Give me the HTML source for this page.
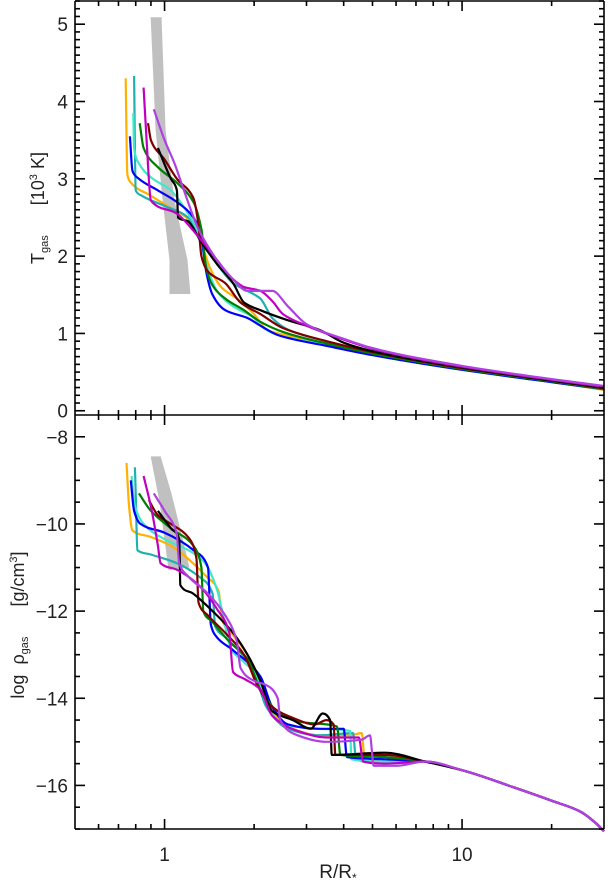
<!DOCTYPE html>
<html><head><meta charset="utf-8"><style>
html,body{margin:0;padding:0;background:#fff;}
svg{display:block;font-family:"Liberation Sans","DejaVu Sans",sans-serif;}
</style></head><body>
<svg id="chart" width="608" height="882" viewBox="0 0 608 882" xmlns="http://www.w3.org/2000/svg">
<g id="top"></g>
<g id="bot"></g>
<g id="axes"></g>
</svg>
<script>
// ---- data ----
const seriesNames = ["orange","teal","turquoise","blue","green","darkred","black","magenta","purple"];
const seriesColors = ["#ffb000","#20b0b0","#40e8c8","#0000ff","#008000","#800000","#000000","#c000c0","#b040e0"];

const tempOrange = [[0.74,4.3],[0.75,3.05],[0.77,2.95],[0.9,2.78],[1.05,2.62],[1.2,2.48],[1.32,2.2],[1.42,1.85],[1.55,1.6],[1.75,1.45],[2.0,1.25],[2.2,1.05],[2.6,0.97],[3.5,0.85],[5,0.72],[10,0.53],[20,0.37],[30,0.27]];
const tempTeal = [[0.79,4.33],[0.8,2.85],[0.84,2.78],[1.0,2.65],[1.2,2.5],[1.32,2.2],[1.5,1.9],[1.7,1.65],[1.9,1.55],[2.1,1.45],[2.3,1.2],[2.6,1.05],[3.5,0.9],[5,0.75],[10,0.55],[20,0.38],[30,0.29]];
const tempTurquoise = [[0.785,3.85],[0.79,3.4],[0.82,3.2],[0.9,3.02],[1.05,2.85],[1.2,2.55],[1.3,2.3],[1.38,1.9],[1.5,1.55],[1.7,1.35],[2.0,1.2],[2.1,1.1],[2.4,0.98],[3.5,0.85],[5,0.72],[10,0.53],[20,0.37],[30,0.28]];
const tempBlue = [[0.765,3.55],[0.78,3.1],[0.82,3.0],[0.95,2.85],[1.1,2.7],[1.25,2.5],[1.33,2.25],[1.38,1.8],[1.45,1.5],[1.6,1.3],[1.9,1.2],[2.1,1.1],[2.4,0.98],[3.5,0.84],[5,0.72],[10,0.53],[20,0.37],[30,0.28]];
const tempGreen = [[0.825,3.72],[0.85,3.4],[0.95,3.15],[1.1,2.95],[1.25,2.7],[1.33,2.35],[1.38,1.85],[1.45,1.62],[1.6,1.45],[1.85,1.3],[2.1,1.15],[2.5,1.02],[3.5,0.87],[5,0.74],[10,0.54],[20,0.38],[30,0.28]];
const tempDarkred = [[0.88,3.72],[0.9,3.5],[1.0,3.25],[1.1,3.0],[1.25,2.75],[1.3,2.4],[1.33,2.0],[1.4,1.8],[1.6,1.65],[1.8,1.4],[2.1,1.25],[2.5,1.07],[3.5,0.9],[5,0.76],[10,0.55],[20,0.39],[30,0.29]];
const tempBlack = [[0.95,3.4],[1.05,3.0],[1.1,2.85],[1.11,2.5],[1.2,2.45],[1.32,2.2],[1.5,1.9],[1.7,1.65],[1.85,1.4],[2.1,1.3],[2.6,1.17],[3.3,1.05],[4,0.88],[5,0.77],[10,0.56],[20,0.39],[30,0.3]];
const tempMagenta = [[0.85,4.18],[0.87,3.5],[0.9,2.72],[1.1,2.55],[1.3,2.25],[1.5,1.95],[1.7,1.7],[1.85,1.6],[2.1,1.55],[2.3,1.42],[2.5,1.25],[3,1.1],[4,0.92],[5,0.8],[10,0.57],[20,0.4],[30,0.31]];
const tempPurple = [[0.92,3.9],[1.0,3.5],[1.08,3.2],[1.15,2.9],[1.3,2.35],[1.5,1.95],[1.7,1.7],[1.9,1.55],[2.3,1.55],[2.6,1.35],[3,1.12],[4,0.93],[5,0.81],[10,0.58],[20,0.41],[30,0.32]];

const rhoTail = [[10,-15.65],[15,-16.05],[20,-16.35],[25,-16.6],[28,-16.85],[30,-17.05]];
const rhoOrange = [[0.745,-8.6],[0.76,-9.6],[0.78,-10.15],[0.9,-10.3],[1.05,-10.5],[1.2,-10.8],[1.38,-11.2],[1.52,-11.55],[1.56,-12.2],[1.7,-12.55],[1.9,-13.0],[2.1,-13.6],[2.3,-14.3],[2.7,-14.7],[3.3,-14.85],[4.2,-14.85],[4.6,-14.8],[4.7,-15.35],[5.5,-15.45],[7.5,-15.45]];
const rhoTeal = [[0.795,-8.7],[0.8,-9.3],[0.81,-10.6],[0.9,-10.7],[1.1,-10.9],[1.3,-11.2],[1.45,-11.6],[1.48,-12.35],[1.6,-12.6],[1.8,-12.95],[2.0,-13.4],[2.2,-14.2],[2.6,-14.7],[3.3,-14.85],[4.3,-14.8],[4.4,-15.4],[5.5,-15.5],[7.5,-15.45]];
const rhoTurquoise = [[0.775,-8.9],[0.79,-9.5],[0.85,-10.0],[1.0,-10.35],[1.2,-10.6],[1.35,-10.85],[1.5,-11.5],[1.55,-11.9],[1.68,-12.9],[1.8,-13.1],[2.05,-13.5],[2.2,-14.1],[2.5,-14.6],[3.3,-14.7],[4.2,-14.75],[4.25,-15.4],[5.5,-15.45],[7.5,-15.45]];
const rhoBlue = [[0.77,-9.0],[0.79,-9.7],[0.83,-10.0],[1.0,-10.2],[1.25,-10.6],[1.4,-11.0],[1.43,-12.3],[1.5,-12.6],[1.7,-12.9],[2.1,-13.5],[2.3,-14.2],[2.6,-14.6],[3.3,-14.7],[4.0,-14.7],[4.1,-15.35],[5.5,-15.4],[7.5,-15.45]];
const rhoGreen = [[0.82,-9.3],[0.9,-9.7],[1.05,-10.1],[1.25,-10.5],[1.33,-11.0],[1.35,-12.0],[1.45,-12.25],[1.65,-12.7],[1.9,-13.1],[2.1,-13.8],[2.4,-14.3],[2.9,-14.55],[3.5,-14.6],[3.8,-14.65],[3.9,-15.3],[5.5,-15.35],[7.5,-15.45]];
const rhoDarkred = [[0.885,-9.45],[0.95,-9.8],[1.05,-10.0],[1.2,-10.3],[1.28,-10.8],[1.3,-11.8],[1.4,-12.1],[1.6,-12.5],[1.85,-13.0],[2.05,-13.7],[2.3,-14.2],[2.7,-14.45],[3.2,-14.6],[3.5,-14.5],[3.7,-14.6],[3.75,-15.3],[5.5,-15.3],[7.5,-15.45]];
const rhoBlack = [[0.95,-9.7],[1.05,-10.1],[1.12,-10.35],[1.13,-11.4],[1.25,-11.6],[1.45,-12.0],[1.7,-12.5],[1.9,-13.0],[2.1,-13.6],[2.3,-14.3],[2.7,-14.5],[3.1,-14.7],[3.4,-14.35],[3.6,-14.5],[3.65,-15.3],[5.5,-15.25],[7.5,-15.45]];
const rhoMagenta = [[0.85,-8.9],[0.9,-9.6],[0.95,-10.5],[0.97,-10.9],[1.1,-11.05],[1.3,-11.4],[1.5,-11.95],[1.65,-12.5],[1.7,-13.4],[1.85,-13.55],[2.1,-13.8],[2.3,-14.4],[2.8,-14.75],[3.5,-14.9],[4.5,-14.9],[4.65,-15.45],[5.5,-15.5],[7.5,-15.45]];
const rhoPurple = [[0.92,-9.3],[1.0,-9.7],[1.1,-10.25],[1.12,-10.9],[1.2,-11.2],[1.4,-11.6],[1.6,-12.1],[1.75,-12.7],[1.8,-13.3],[2.0,-13.6],[2.2,-13.7],[2.4,-14.0],[2.45,-14.5],[2.8,-14.85],[3.5,-15.0],[4.6,-14.95],[4.9,-14.85],[5.05,-15.55],[6.0,-15.55],[7.5,-15.45]];

const tempBandLeft = [[0.898,5.09],[0.933,3.63],[0.985,2.72],[1.039,1.95],[1.039,1.51]];
const tempBandRight = [[0.977,5.09],[1.008,3.63],[1.08,2.72],[1.194,1.95],[1.222,1.51]];
const rhoBandLeft = [[0.898,-8.45],[0.962,-9.5],[1.031,-11.05]];
const rhoBandRight = [[0.97,-8.45],[1.055,-9.3],[1.166,-10.5],[1.212,-11.0]];

const tempTicks = [0,1,2,3,4,5];
const rhoTicks = [-8,-10,-12,-14,-16];
const xTickLabels = [1,10];

// ---- axes ----
const X0=75, X1=604, TOP0=1, MID=415, BOT=829;
const xDomain=[0.5,30], tDomain=[-0.055,5.3], rDomain=[-17,-7.5];
const xs = r => X0 + (Math.log10(r)-Math.log10(xDomain[0]))/(Math.log10(xDomain[1])-Math.log10(xDomain[0]))*(X1-X0);
const yT = t => MID - (t-tDomain[0])/(tDomain[1]-tDomain[0])*(MID-TOP0);
const yR = v => BOT - (v-rDomain[0])/(rDomain[1]-rDomain[0])*(BOT-MID);

const NS="http://www.w3.org/2000/svg";
function mk(tag, parent){const e=document.createElementNS(NS,tag);parent.appendChild(e);return e;}
const gTop=document.getElementById('top'), gBot=document.getElementById('bot'), gAx=document.getElementById('axes');

function band(parent,L,R,yf,name){
  const pts=L.map(p=>xs(p[0])+','+yf(p[1])).concat(R.slice().reverse().map(p=>xs(p[0])+','+yf(p[1])));
  const pg=mk('polygon',parent);
  pg.setAttribute('points',pts.join(' '));
  pg.setAttribute('fill','#c0c0c0');
  
  
}
band(gTop,tempBandLeft,tempBandRight,yT,'temperature-band');
band(gBot,rhoBandLeft,rhoBandRight,yR,'density-band');

// monotone-x cubic path
function monoPath(P){
  const n=P.length; if(n<2) return '';
  const dx=[],m=[],t=new Array(n);
  for(let i=0;i<n-1;i++){dx[i]=P[i+1][0]-P[i][0]; m[i]=(P[i+1][1]-P[i][1])/(dx[i]||1e-6);}
  t[0]=m[0]; t[n-1]=m[n-2];
  for(let i=1;i<n-1;i++){
    if(m[i-1]*m[i]<=0) t[i]=0;
    else{const w1=2*dx[i]+dx[i-1], w2=dx[i]+2*dx[i-1]; t[i]=(w1+w2)/(w1/m[i-1]+w2/m[i]);}
  }
  let d='M'+P[0][0].toFixed(1)+','+P[0][1].toFixed(1);
  for(let i=0;i<n-1;i++){
    const h=dx[i]/3;
    d+='C'+(P[i][0]+h).toFixed(1)+','+(P[i][1]+t[i]*h).toFixed(1)+' '+(P[i+1][0]-h).toFixed(1)+','+(P[i+1][1]-t[i+1]*h).toFixed(1)+' '+P[i+1][0].toFixed(1)+','+P[i+1][1].toFixed(1);
  }
  return d;
}
function line(parent,data,yf,color,name){
  const p=mk('path',parent);
  p.setAttribute('d',monoPath(data.map(d=>[xs(d[0]),yf(d[1])])));
  p.setAttribute('fill','none');p.setAttribute('stroke',color);p.setAttribute('stroke-width','2.2');
  p.setAttribute('stroke-linejoin','round');
  
  
}
const tempSeries=[tempOrange,tempTeal,tempTurquoise,tempBlue,tempGreen,tempDarkred,tempBlack,tempMagenta,tempPurple];
const rhoSeries=[rhoOrange,rhoTeal,rhoTurquoise,rhoBlue,rhoGreen,rhoDarkred,rhoBlack,rhoMagenta,rhoPurple];
tempSeries.forEach((s,i)=>line(gTop,s,yT,seriesColors[i],'temperature-line-'+seriesNames[i]));
rhoSeries.forEach((s,i)=>line(gBot,s.concat(rhoTail),yR,seriesColors[i],'density-line-'+seriesNames[i]));

function seg(x1,y1,x2,y2,name){const l=mk('line',gAx);l.setAttribute('x1',x1);l.setAttribute('y1',y1);l.setAttribute('x2',x2);l.setAttribute('y2',y2);l.setAttribute('stroke','#000');l.setAttribute('stroke-width','1.6');
  
  }
function txt(x,y,s,anchor,size,name){const t=mk('text',gAx);t.setAttribute('x',x);t.setAttribute('y',y);t.setAttribute('text-anchor',anchor);t.setAttribute('font-size',size);t.setAttribute('fill','#222');t.textContent=s;
  
  return t;}

// frames
[[X0,TOP0,X1,TOP0],[X0,MID,X1,MID],[X0,BOT,X1,BOT],[X0,TOP0,X0,BOT],[X1,TOP0,X1,BOT]].forEach(a=>seg(a[0],a[1],a[2],a[3],'axis-frame'));

// x ticks
const xMinor=[0.6,0.7,0.8,0.9,2,3,4,5,6,7,8,9,20];
[[TOP0,1],[MID,-1],[MID,1],[BOT,-1]].forEach(([y,dir])=>{
  xTickLabels.forEach(v=>seg(xs(v),y,xs(v),y+dir*10,'x-major-tick'));
  xMinor.forEach(v=>seg(xs(v),y,xs(v),y+dir*5,'x-minor-tick'));
});
// y ticks
for(let k=0;k<=53;k++){const v=k/10;const y=yT(v);const maj=(k%10===0);const L=maj?10:5;
  seg(X0,y,X0+L,y,'temperature-tick');seg(X1,y,X1-L,y,'temperature-tick');}
for(let k=-34;k<=-15;k++){const v=k/2;const y=yR(v);if(y<MID+1)continue;const maj=(k%4===0);const L=maj?10:5;
  seg(X0,y,X0+L,y,'density-tick');seg(X1,y,X1-L,y,'density-tick');}

tempTicks.forEach(v=>txt(68,yT(v)+7,String(v),'end',19,'temperature-tick-label'));
rhoTicks.forEach(v=>txt(68,yR(v)+7,'\u2212'+Math.abs(v),'end',19,'density-tick-label'));
xTickLabels.forEach(v=>txt(xs(v),861,String(v),'middle',19,'x-tick-label'));

// axis titles
const xt=txt(338,878,'','middle',19,'x-axis-title');
xt.innerHTML='R/R<tspan font-size="12" dy="4">*</tspan>';
const t1=txt(0,0,'','middle',18,'temperature-axis-title');
t1.setAttribute('transform','translate(44,208) rotate(-90)');
t1.innerHTML='T<tspan font-size="11" dy="4">gas</tspan><tspan dy="-4" xml:space="preserve">      [10</tspan><tspan font-size="11" dy="-7">3</tspan><tspan dy="7"> K]</tspan>';
const t2=txt(0,0,'','middle',18,'density-axis-title');
t2.setAttribute('transform','translate(24,625) rotate(-90)');
t2.innerHTML='<tspan xml:space="preserve">log  \u03c1</tspan><tspan font-size="11" dy="4">gas</tspan><tspan dy="-4" xml:space="preserve">      [g/cm</tspan><tspan font-size="11" dy="-7">3</tspan><tspan dy="7">]</tspan>';
</script>
</body></html>
